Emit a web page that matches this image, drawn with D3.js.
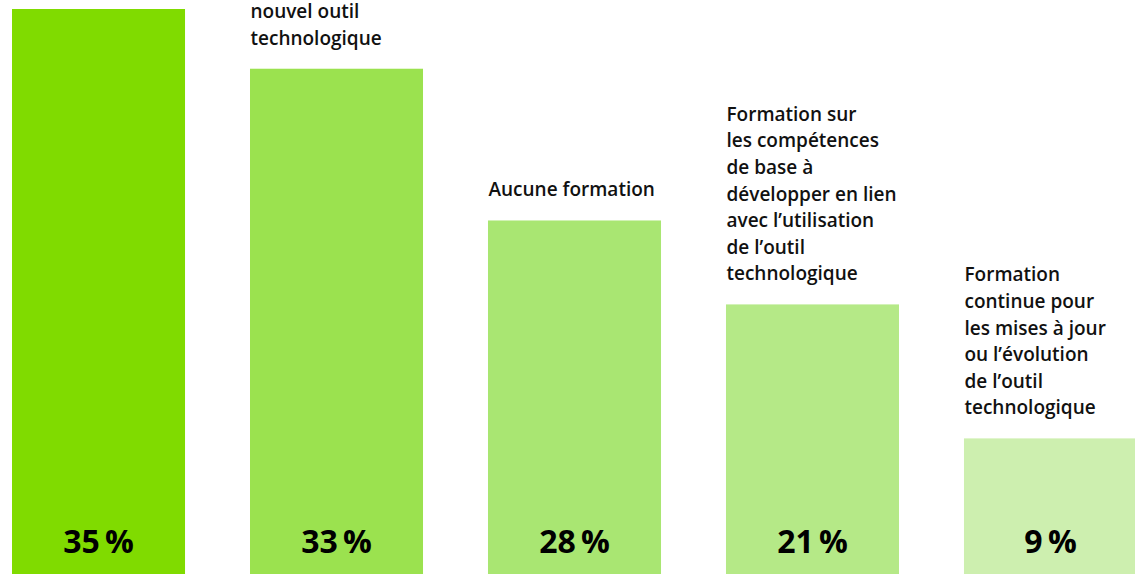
<!DOCTYPE html>
<html>
<head>
<meta charset="utf-8">
<script src="https://cdn.jsdelivr.net/npm/d3@7"></script>
<style>
  body { margin: 0; background: #fff; }
</style>
</head>
<body>
<div id="area_chart"></div>
<script>
// categories (the label of the first one is above the visible area)
const categories = ["formation_initiale", "outil_nouvel", "aucune", "competences_base", "formation_continue"];
const values = [35, 33, 28, 21, 9];
// the source graphic is not drawn to scale: lengths, in units of the first bar
const barLengths = [35, 31.3, 21.9, 16.7, 8.4];
const colors = ["#80db00", "#9be24f", "#a9e672", "#b5e987", "#cdefaf"];
const labelLines = [
    [],
    ["nouvel outil", "technologique"],
    ["Aucune formation"],
    ["Formation sur", "les compétences", "de base à", "développer en lien", "avec l’utilisation", "de l’outil", "technologique"],
    ["Formation", "continue pour", "les mises à jour", "ou l’évolution", "de l’outil", "technologique"]
];

function barchart(){
    const dimensions = {
        width: 1135,
        height: 574,
        margin: { top: 9, left: 12, right: -2, bottom: 0 }
    };
    dimensions.boundedWidth = dimensions.width - dimensions.margin.left - dimensions.margin.right;
    dimensions.boundedHeight = dimensions.height - dimensions.margin.top - dimensions.margin.bottom;

    const svg = d3.select("#area_chart").append("svg")
        .attr("width", dimensions.width)
        .attr("height", dimensions.height)
        .style("display", "block");

    const bounded = svg.append("g")
        .attr("transform", `translate(${dimensions.margin.left},${dimensions.margin.top})`);

    const xScale = d3.scaleBand()
        .domain(categories)
        .range([0, dimensions.boundedWidth])
        .paddingInner(0.273)
        .paddingOuter(0);

    const yScale = d3.scaleLinear()
        .domain([0, 35])
        .range([dimensions.boundedHeight, 0]);

    const data = categories.map((c, i) => ({
        cat: c, value: values[i], len: barLengths[i], color: colors[i], lines: labelLines[i]
    }));

    bounded.selectAll("rect")
        .data(data)
        .join("rect")
        .attr("x", d => xScale(d.cat))
        .attr("y", d => yScale(d.len))
        .attr("width", xScale.bandwidth())
        .attr("height", d => dimensions.boundedHeight - yScale(d.len))
        .attr("fill", d => d.color);

    bounded.selectAll(".pct")
        .data(data)
        .join("text")
        .attr("class", "pct")
        .attr("x", d => xScale(d.cat) + xScale.bandwidth() / 2)
        .attr("y", dimensions.boundedHeight - 21)
        .attr("text-anchor", "middle")
        .style("font-family", "'Open Sans', sans-serif")
        .style("font-weight", 700)
        .style("font-size", "32px")
        .style("fill", "#000")
        .text(d => d.value + "\u2009%");

    const lineHeight = 26.6;
    const labels = bounded.selectAll(".lbl")
        .data(data)
        .join("text")
        .attr("class", "lbl")
        .style("font-family", "'Open Sans', sans-serif")
        .style("font-weight", 600)
        .style("font-size", "19px")
        .style("fill", "#111");

    labels.selectAll("tspan")
        .data(d => d.lines.map((t, j) => ({
            t,
            x: xScale(d.cat) + 0.5,
            y: yScale(d.len) - 24 - (d.lines.length - 1 - j) * lineHeight
        })))
        .join("tspan")
        .attr("x", d => d.x)
        .attr("y", d => d.y)
        .text(d => d.t);
}

barchart();
</script>
</body>
</html>
